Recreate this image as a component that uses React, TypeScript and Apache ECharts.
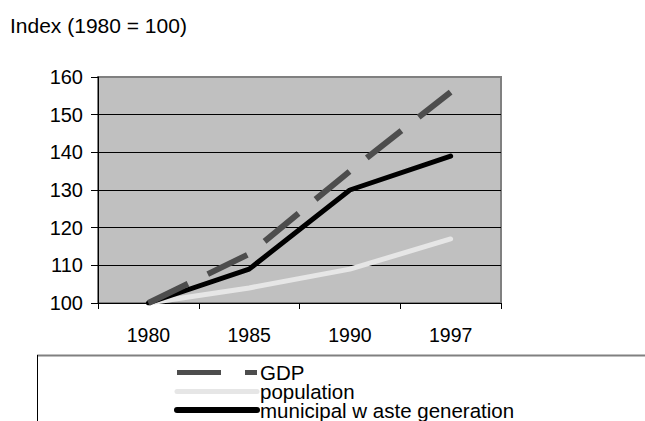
import React, { useEffect, useRef } from "react";
import * as echarts from "echarts";

const categories = ["1980", "1985", "1990", "1997"];
const gdp = [100, 113, 135, 156];
const population = [100, 104, 109, 117];
const waste = [100, 109, 130, 139];
const seriesNames = ["GDP", "population", "municipal w aste generation"];
const seriesColors = ["#4D4D4D", "#E6E6E6", "#000000"];
const titleText = "Index (1980 = 100)";

const FONT = "'Liberation Sans', Arial, sans-serif";

export default function App() {
  const ref = useRef<HTMLDivElement>(null);
  useEffect(() => {
    if (!ref.current) return;
    const chart = echarts.init(ref.current, null, { renderer: "svg" });

    const legendX1 = 177;
    const legendX2 = 257;
    const rowY = [372.5, 391.5, 410];
    const legendGraphics: any[] = [];
    seriesNames.forEach((name, i) => {
      const dashed = i === 0;
      legendGraphics.push({
        type: "line",
        shape: { x1: legendX1, y1: rowY[i], x2: legendX2, y2: rowY[i] },
        style: {
          stroke: seriesColors[i],
          lineWidth: i === 2 ? 6 : 5,
          lineCap: dashed ? "butt" : "round",
          lineDash: dashed ? [44, 24] : null,
        },
        z: 10,
      });
      legendGraphics.push({
        type: "text",
        x: 260,
        y: rowY[i],
        style: {
          text: name,
          fontFamily: FONT,
          fontSize: 20.5,
          lineHeight: 18,
          fill: "#000",
          verticalAlign: "middle",
          align: "left",
        },
        z: 10,
      });
    });

    chart.setOption({
      animation: false,
      backgroundColor: "#ffffff",
      title: {
        text: titleText,
        left: 10,
        top: 15,
        padding: 0,
        textStyle: { fontFamily: FONT, fontSize: 21, fontWeight: "normal", color: "#000" },
      },
      grid: {
        left: 98,
        top: 77,
        right: 144,
        bottom: 118,
        show: true,
        backgroundColor: "#C0C0C0",
        borderColor: "#808080",
        borderWidth: 2,
      },
      xAxis: {
        type: "category",
        data: categories,
        boundaryGap: true,
        axisLine: { show: true, lineStyle: { color: "#000", width: 1 } },
        axisTick: { show: true, length: 6, lineStyle: { color: "#000" } },
        axisLabel: { margin: 22, fontFamily: FONT, fontSize: 19.5, color: "#000" },
        splitLine: { show: false },
      },
      yAxis: {
        type: "value",
        min: 100,
        max: 160,
        interval: 10,
        axisLine: { show: true, lineStyle: { color: "#000", width: 1 } },
        axisTick: { show: true, length: 7, lineStyle: { color: "#000" } },
        axisLabel: { margin: 15, fontFamily: FONT, fontSize: 20, color: "#000" },
        splitLine: {
          show: true,
          showMaxLine: false,
          showMinLine: false,
          lineStyle: { color: "#000", width: 1 },
        },
      },
      graphic: [
        {
          type: "line",
          shape: { x1: 37, y1: 355.5, x2: 645, y2: 355.5 },
          style: { stroke: "#808080", lineWidth: 2 },
        },
        {
          type: "line",
          shape: { x1: 37.5, y1: 355, x2: 37.5, y2: 421 },
          style: { stroke: "#000", lineWidth: 1 },
        },
        ...legendGraphics,
      ],
      series: [
        {
          name: seriesNames[0],
          type: "line",
          data: gdp,
          symbol: "none",
          z: 4,
          lineStyle: { color: seriesColors[0], width: 6, type: [44, 22], cap: "butt" },
          itemStyle: { color: seriesColors[0] },
        },
        {
          name: seriesNames[1],
          type: "line",
          data: population,
          symbol: "none",
          z: 2,
          lineStyle: { color: seriesColors[1], width: 5, cap: "round", join: "round" },
          itemStyle: { color: seriesColors[1] },
        },
        {
          name: seriesNames[2],
          type: "line",
          data: waste,
          symbol: "none",
          z: 3,
          lineStyle: { color: seriesColors[2], width: 5, cap: "round", join: "round" },
          itemStyle: { color: seriesColors[2] },
        },
      ],
    });
    return () => chart.dispose();
  }, []);
  return (
    <div
      ref={ref}
      style={{ position: "absolute", left: 0, top: 0, width: 645, height: 421 }}
    />
  );
}
